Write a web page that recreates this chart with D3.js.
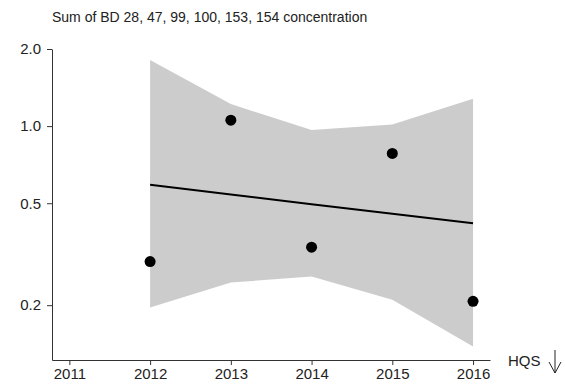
<!DOCTYPE html>
<html>
<head>
<meta charset="utf-8">
<script src="https://cdn.jsdelivr.net/npm/d3@7"></script>
<style>
  body { margin: 0; background: #fff; }
  svg text { font-family: "Liberation Sans", Arial, sans-serif; fill: #222; }
</style>
</head>
<body>
<svg id="chart" width="565" height="387"></svg>
<script>
// data
var years = [2012, 2013, 2014, 2015, 2016];
var values = [0.296, 1.055, 0.337, 0.782, 0.207];
var fitValues = [0.590, 0.541, 0.496, 0.455, 0.418];
var bandUpper = [1.81, 1.22, 0.965, 1.015, 1.28];
var bandLower = [0.196, 0.245, 0.259, 0.210, 0.138];
var xTicks = [2011, 2012, 2013, 2014, 2015, 2016];
var yTicks = [0.2, 0.5, 1.0, 2.0];
var title = "Sum of BD 28, 47, 99, 100, 153, 154 concentration";

var svg = d3.select("#chart");

var x = d3.scaleLinear().domain([2010.785, 2016.21]).range([52, 490]);
var y = d3.scaleLog().domain([0.1222, 2.0]).range([360, 49]);

// confidence band
var band = years.map(function (yr, i) {
  return { year: yr, lo: bandLower[i], hi: bandUpper[i] };
});
svg.append("path")
  .datum(band)
  .attr("fill", "#cccccc")
  .attr("d", d3.area()
    .x(function (d) { return x(d.year); })
    .y0(function (d) { return y(d.lo); })
    .y1(function (d) { return y(d.hi); }));

// fitted trend
svg.append("path")
  .datum(years.map(function (yr, i) { return [yr, fitValues[i]]; }))
  .attr("fill", "none")
  .attr("stroke", "#000")
  .attr("stroke-width", 2)
  .attr("d", d3.line()
    .x(function (d) { return x(d[0]); })
    .y(function (d) { return y(d[1]); }));

// points
svg.selectAll("circle.pt")
  .data(years)
  .enter()
  .append("circle")
  .attr("class", "pt")
  .attr("cx", function (d) { return x(d); })
  .attr("cy", function (d, i) { return y(values[i]); })
  .attr("r", 5.5)
  .attr("fill", "#000");

// axes
var xAxis = svg.append("g")
  .attr("transform", "translate(0,360)")
  .call(d3.axisBottom(x).tickValues(xTicks).tickFormat(d3.format("d"))
    .tickSize(5).tickSizeOuter(0).tickPadding(3));

var yAxis = svg.append("g")
  .attr("transform", "translate(52,0)")
  .call(d3.axisLeft(y).tickValues(yTicks).tickFormat(d3.format(".1f"))
    .tickSize(5).tickSizeOuter(0).tickPadding(6));

[xAxis, yAxis].forEach(function (g) {
  g.selectAll("path, line").attr("stroke", "#333");
  g.selectAll("text")
    .attr("fill", "#222")
    .style("font-family", "Liberation Sans, Arial, sans-serif")
    .style("font-size", "15px");
});

// title
svg.append("text")
  .attr("x", 52)
  .attr("y", 22)
  .style("font-size", "14px")
  .text(title);

// direction label
svg.append("text")
  .attr("x", 508)
  .attr("y", 366)
  .style("font-size", "15px")
  .text("HQS");

svg.append("path")
  .attr("d", "M555,350 L555,373 M549,362 L555,373 L561,362")
  .attr("fill", "none")
  .attr("stroke", "#222")
  .attr("stroke-width", 1);
</script>
</body>
</html>
